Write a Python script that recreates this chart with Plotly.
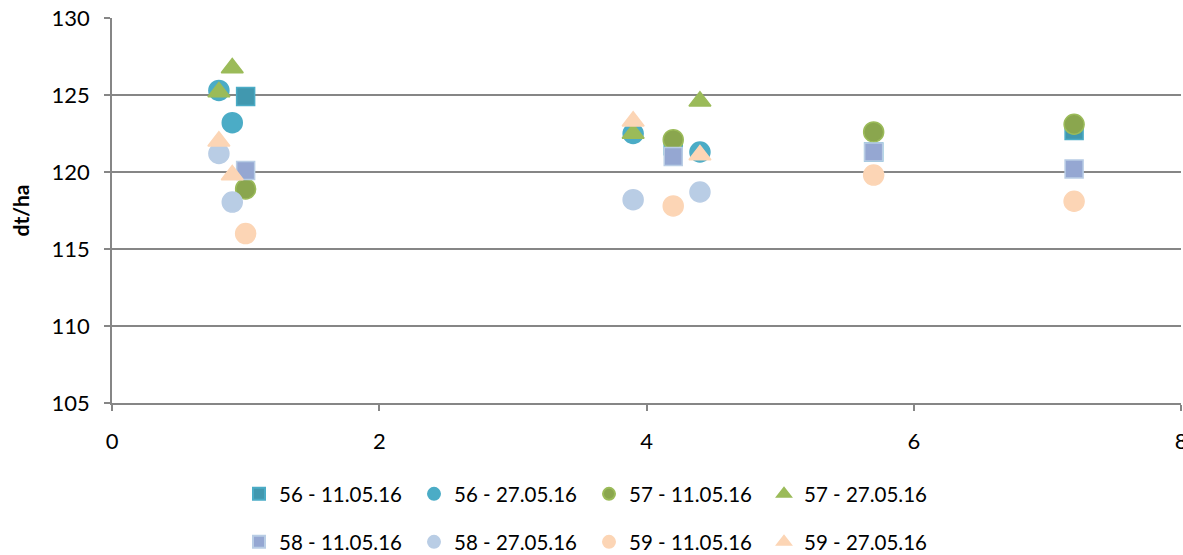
import plotly.graph_objects as go

# Sampling positions (x) for the two dates
x_11 = [1.0, 4.2, 5.7, 7.2]
x_27 = [0.8, 0.9, 3.9, 4.4]

# Yields in dt/ha
y_56_11 = [124.9, 121.7, 121.3, 122.7]
y_56_27 = [125.3, 123.2, 122.5, 121.3]
y_57_11 = [118.9, 122.1, 122.6, 123.1]
y_57_27 = [125.2, 126.75, 122.5, 124.6]
y_58_11 = [120.1, 121.0, 121.3, 120.2]
y_58_27 = [121.2, 118.05, 118.2, 118.7]
y_59_11 = [116.0, 117.8, 119.8, 118.1]
y_59_27 = [122.0, 119.8, 123.3, 121.1]

y_ticks = [105, 110, 115, 120, 125, 130]
x_ticks = [0, 2, 4, 6, 8]

FONT = "Lato"

series = [
    ("56 - 11.05.16", x_11, y_56_11, "square", 18, "#4198AF", "#4BACC6", "legend"),
    ("56 - 27.05.16", x_27, y_56_27, "circle", 20, "#4BACC6", "#4BACC6", "legend"),
    ("57 - 11.05.16", x_11, y_57_11, "circle", 20, "#8AA64E", "#9BBB59", "legend"),
    ("57 - 27.05.16", x_27, y_57_27, "triangle-up", 19, "#9BBB59", "#9BBB59", "legend"),
    ("58 - 11.05.16", x_11, y_58_11, "square", 18, "#95A7D2", "#B9CDE5", "legend2"),
    ("58 - 27.05.16", x_27, y_58_27, "circle", 20, "#B9CDE5", "#B9CDE5", "legend2"),
    ("59 - 11.05.16", x_11, y_59_11, "circle", 20, "#FCD5B5", "#FCD5B5", "legend2"),
    ("59 - 27.05.16", x_27, y_59_27, "triangle-up", 19, "#FCD5B5", "#FCD5B5", "legend2"),
]

fig = go.Figure()
for name, xs, ys, sym, size, fill, edge, leg in series:
    fig.add_trace(go.Scatter(
        x=xs, y=ys, mode="markers", name=name, legend=leg,
        marker=dict(symbol=sym, size=size, color=fill,
                    line=dict(color=edge, width=1.5)),
    ))

legend_common = dict(
    orientation="h", xref="container", yref="container",
    xanchor="left", x=239 / 1183, yanchor="middle",
    font=dict(family=FONT, size=20.5, color="#000000"),
    bgcolor="rgba(0,0,0,0)", itemsizing="constant",
    tracegroupgap=0, itemwidth=30,
    entrywidth=130, entrywidthmode="pixels",
)

fig.update_layout(
    width=1183, height=555,
    margin=dict(l=112, r=2, t=18, b=152, autoexpand=False),
    paper_bgcolor="white", plot_bgcolor="white",
    font=dict(family=FONT, size=21, color="#000000"),
    showlegend=True,
    legend=dict(y=1 - 494 / 555, **legend_common),
    legend2=dict(y=1 - 542 / 555, **legend_common),
    xaxis=dict(
        range=[0, 8], tickvals=x_ticks, ticktext=[str(v) for v in x_ticks],
        showgrid=False, zeroline=False,
        showline=True, linecolor="#868686", linewidth=1.5,
        ticks="outside", ticklen=6, tickcolor="#868686", tickwidth=1.5,
        tickfont=dict(family=FONT, size=22), ticklabelstandoff=12,
        ticklabeloverflow="allow", fixedrange=True,
    ),
    yaxis=dict(
        range=[105, 130], tickvals=y_ticks, ticktext=[str(v) for v in y_ticks],
        showgrid=True, gridcolor="#868686", gridwidth=1.5,
        zeroline=False, showline=True, linecolor="#868686", linewidth=1.5,
        ticks="outside", ticklen=6, tickcolor="#868686", tickwidth=1.5,
        tickfont=dict(family=FONT, size=22), ticklabelstandoff=10,
        title=dict(text="<b>dt/ha</b>", font=dict(family=FONT, size=21), standoff=16),
        fixedrange=True,
    ),
)

fig.write_html("out.html")
